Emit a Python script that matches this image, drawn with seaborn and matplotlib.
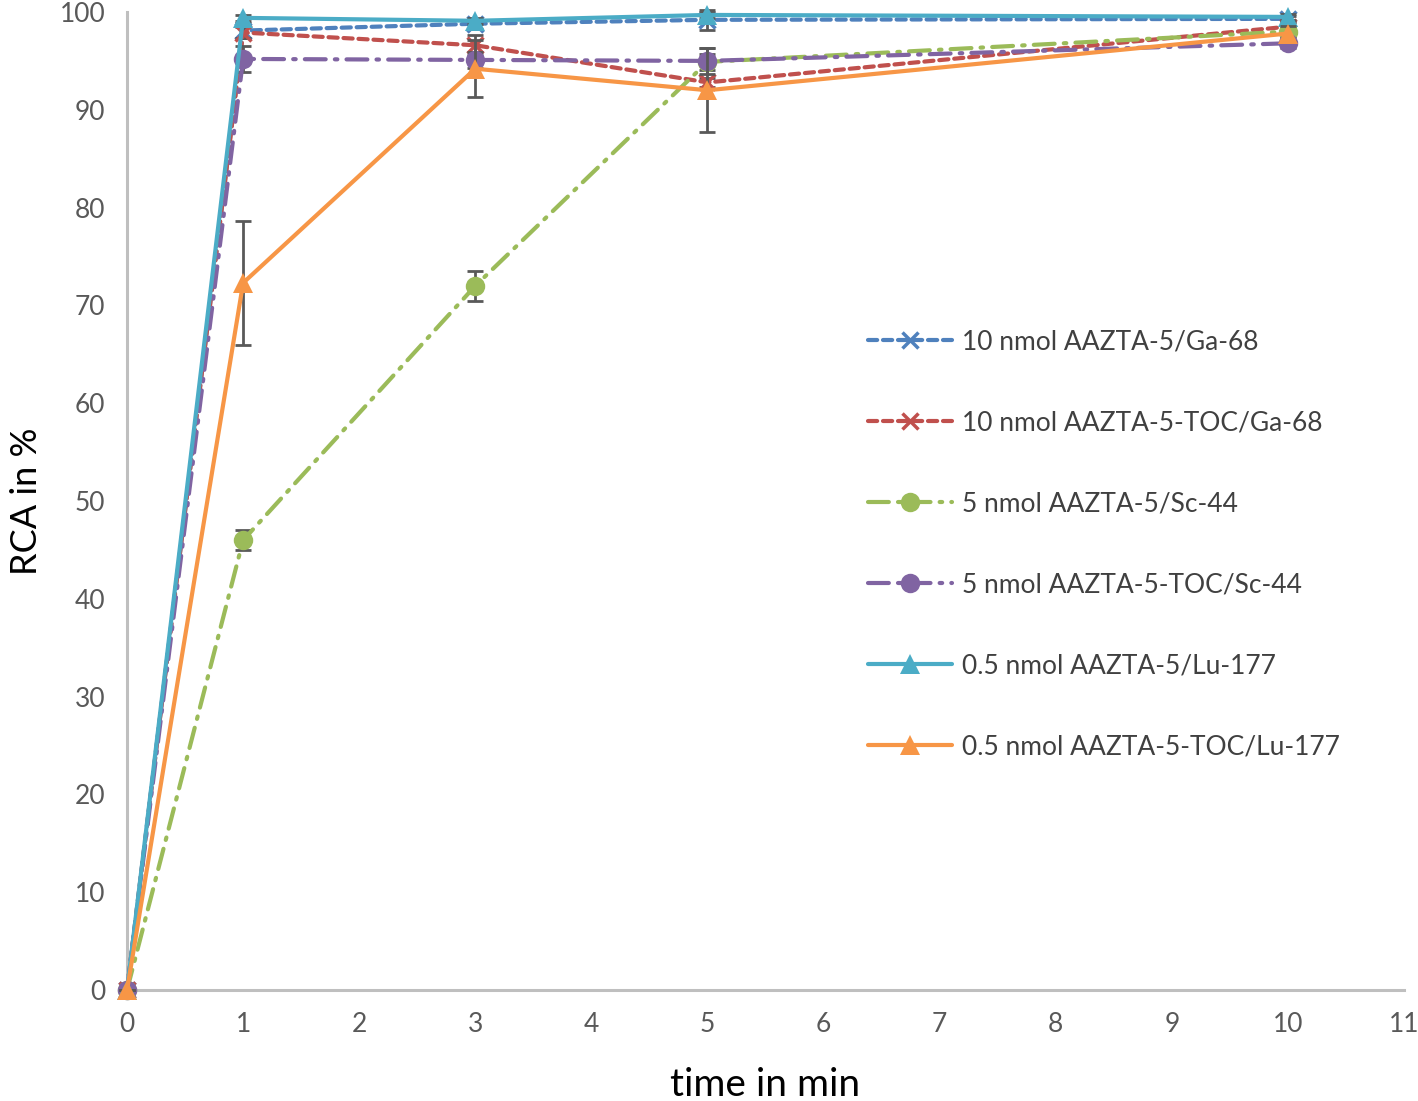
import numpy as np
import pandas as pd
import matplotlib
matplotlib.use("Agg")
import matplotlib.pyplot as plt
import seaborn as sns

# time points (min)
time_min = [0, 1, 3, 5, 10]

labels = ["10 nmol AAZTA-5/Ga-68",
          "10 nmol AAZTA-5-TOC/Ga-68",
          "5 nmol AAZTA-5/Sc-44",
          "5 nmol AAZTA-5-TOC/Sc-44",
          "0.5 nmol AAZTA-5/Lu-177",
          "0.5 nmol AAZTA-5-TOC/Lu-177"]

# RCA in % per series
ga_aazta = [0, 98.1, 98.8, 99.2, 99.3]
ga_toc = [0, 97.9, 96.6, 92.8, 98.5]
sc_aazta = [0, 46.0, 72.0, 94.9, 98.0]
sc_toc = [0, 95.2, 95.1, 95.0, 96.8]
lu_aazta = [0, 99.4, 99.1, 99.7, 99.5]
lu_toc = [0, 72.3, 94.2, 92.0, 97.8]

# standard deviations
ga_aazta_sd = [0, 0.8, 0.5, 1.0, 0.3]
ga_toc_sd = [0, 0.6, 1.0, 0.5, 0.5]
sc_aazta_sd = [0, 1.0, 1.5, 0.8, 0.5]
sc_toc_sd = [0, 1.3, 0.8, 1.3, 0.5]
lu_aazta_sd = [0, 0.3, 0.3, 0.3, 0.3]
lu_toc_sd = [0, 6.3, 2.9, 4.3, 0.8]

values = [ga_aazta, ga_toc, sc_aazta, sc_toc, lu_aazta, lu_toc]
sds = [ga_aazta_sd, ga_toc_sd, sc_aazta_sd, sc_toc_sd, lu_aazta_sd, lu_toc_sd]

colors = ["#4F81BD", "#C0504D", "#9BBB59", "#8064A2", "#4BACC6", "#F79646"]
markers = ["x", "x", "o", "o", "^", "^"]
styles = [(0, (2.2, 1.4)), (0, (2.2, 1.4)), (0, (5, 2.2, 0.6, 2.2)),
          (0, (5, 2.2, 0.6, 2.2)), "-", "-"]
msizes = [11, 11, 14, 14, 14, 14]

df = pd.DataFrame({
    "time": time_min * len(labels),
    "rca": np.concatenate(values),
    "sd": np.concatenate(sds),
    "series": np.repeat(labels, len(time_min)),
})

sns.set_style("white")
plt.rcParams["font.family"] = ["Lato", "DejaVu Sans"]

fig = plt.figure(figsize=(14.18, 11.01), dpi=100)
ax = fig.add_axes([0.0896, 0.1008, 0.9005, 0.8883])

for i, lab in enumerate(labels):
    sub = df[df["series"] == lab]
    ax.errorbar(sub["time"], sub["rca"], yerr=sub["sd"], fmt="none",
                ecolor="#595959", elinewidth=2, capsize=6, capthick=2,
                zorder=2 + i)
    sns.lineplot(data=sub, x="time", y="rca", ax=ax, color=colors[i],
                 marker=markers[i], markersize=msizes[i], linestyle=styles[i],
                 linewidth=3, markeredgewidth=2.5 if markers[i] == "x" else 0,
                 markeredgecolor=colors[i], label=lab, zorder=3 + i,
                 dash_capstyle="round")

ax.set_xlim(0, 11)
ax.set_ylim(0, 100)
ax.set_xticks(range(0, 12))
ax.set_yticks(range(0, 101, 10))

for s in ["top", "right"]:
    ax.spines[s].set_visible(False)
for s in ["left", "bottom"]:
    ax.spines[s].set_color("#BFBFBF")
    ax.spines[s].set_linewidth(2.2)
    ax.spines[s].set_zorder(1)
ax.tick_params(axis="both", direction="inout", length=15, width=2.2,
               color="#BFBFBF", labelsize=19, labelcolor="#595959", pad=8)

ax.set_xlabel("time in min", fontsize=28, color="black", labelpad=22)
ax.set_ylabel("RCA in %", fontsize=26, color="black", labelpad=12)

leg = ax.legend(loc="upper left", bbox_to_anchor=(0.572, 0.686),
                frameon=False, fontsize=19, labelspacing=2.12,
                handlelength=3.2, handletextpad=0.35, borderaxespad=0)
for t in leg.get_texts():
    t.set_color("#404040")

for line in ax.get_lines():
    line.set_clip_on(False)

fig.savefig("out.png", dpi=100)
